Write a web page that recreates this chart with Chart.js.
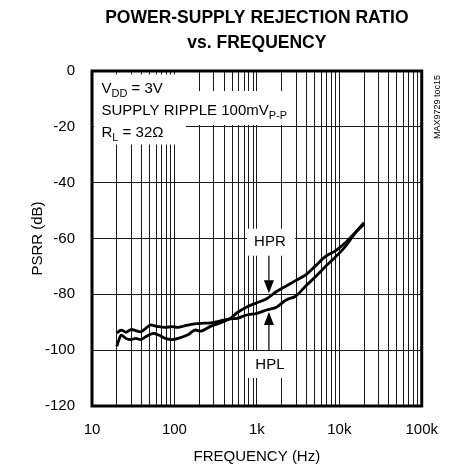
<!DOCTYPE html>
<html>
<head>
<meta charset="utf-8">
<script src="https://cdn.jsdelivr.net/npm/chart.js@4/dist/chart.umd.min.js"></script>
<style>
html, body { margin: 0; padding: 0; background: #fff; }
#wrap { width: 453px; height: 469px; }
</style>
</head>
<body>
<div id="wrap"><canvas id="psrr"></canvas></div>
<script>
// frequencies (Hz) the two curves were read at
const freq = [20, 22.6, 25.9, 29.7, 34.1, 39, 44.8, 51.3, 56.3, 64.5, 77.5, 92.9, 111, 146, 176, 211, 278, 364, 479, 575, 754, 1000, 1315, 1727, 2269, 2980, 3914, 5141, 6753, 8870, 11650, 15300, 20000];
const hpr = [-98.6, -94.6, -95.8, -96.2, -95.8, -96.2, -95.2, -94.3, -94.0, -94.6, -95.8, -96.2, -95.8, -94.5, -92.8, -93.2, -91.4, -90.2, -88.6, -86.6, -84.5, -83.0, -81.6, -79.0, -77.0, -75.0, -73.0, -69.8, -66.5, -64.5, -61.7, -58.1, -54.3];
const hpl = [-93.8, -92.8, -93.6, -92.6, -93.0, -93.4, -92.2, -91.0, -91.2, -91.6, -91.8, -91.6, -91.8, -91.0, -90.6, -90.4, -90.2, -89.5, -88.8, -88.6, -87.4, -86.8, -85.6, -84.6, -82.0, -80.6, -77.0, -73.7, -70.1, -66.8, -63.1, -58.4, -54.8];

const decades = [10, 100, 1000, 10000];
const xTickLabels = {10: '10', 100: '100', 1000: '1k', 10000: '10k', 100000: '100k'};
const yTicks = [-120, -100, -80, -60, -40, -20, 0];

const titleLines = ['POWER-SUPPLY REJECTION RATIO', 'vs. FREQUENCY'];
const conditions = [
  [['V', 0], ['DD', 1], [' = 3V', 0]],
  [['SUPPLY RIPPLE 100mV', 0], ['P-P', 1]],
  [['R', 0], ['L', 1], [' = 32\u03A9', 0]]
];
const arrowFreq = 1400;
const hprTip = -79.6, hplTip = -86.3;

const xGrid = [];
decades.forEach(d => { for (let m = 1; m < 10; m++) xGrid.push(d * m); });
xGrid.push(100000);

const FONT = '"Liberation Sans", Arial, Helvetica, sans-serif';
Chart.defaults.font.family = FONT;
Chart.defaults.color = '#000';

function richText(ctx, parts, x, y) {
  parts.forEach(([t, sub]) => {
    ctx.font = (sub ? '11px ' : '15px ') + FONT;
    ctx.fillText(t, x, y + (sub ? 4 : 0));
    x += ctx.measureText(t).width;
  });
  return x;
}

const extras = {
  id: 'extras',
  beforeDatasetsDraw(chart) {
    const {ctx, chartArea: a, scales: {x, y}} = chart;
    ctx.save();
    ctx.fillStyle = '#fff';
    // backing for the conditions block
    ctx.fillRect(a.left + 2, a.top + 3.5, 92, 70);
    let w = 0;
    conditions[1].forEach(([t, sub]) => {
      ctx.font = (sub ? '11px ' : '15px ') + FONT;
      w += ctx.measureText(t).width;
    });
    ctx.fillRect(a.left + 2, a.top + 20, w + 16, 34);
    // backing for HPR / HPL labels
    const ax = x.getPixelForValue(arrowFreq);
    ctx.fillRect(ax - 22, y.getPixelForValue(-56.5), 48, 27);
    ctx.fillRect(ax - 22, y.getPixelForValue(-100.3), 48, 27);
    ctx.restore();
  },
  afterDraw(chart) {
    const {ctx, chartArea: a, scales: {x, y}} = chart;
    ctx.save();
    // frame
    ctx.strokeStyle = '#000';
    ctx.lineWidth = 3;
    ctx.strokeRect(a.left, a.top, a.right - a.left, a.bottom - a.top);

    // title
    ctx.fillStyle = '#000';
    ctx.textAlign = 'center';
    ctx.textBaseline = 'middle';
    const cx = (a.left + a.right) / 2;
    ctx.font = 'bold 21px "Liberation Sans Narrow", "Arial Narrow", ' + FONT;
    if (ctx.measureText(titleLines[0]).width > 330) ctx.font = 'bold 17.5px ' + FONT;
    ctx.fillText(titleLines[0], cx, 18);
    ctx.fillText(titleLines[1], cx, 43);

    // conditions
    ctx.textAlign = 'left';
    ctx.textBaseline = 'alphabetic';
    conditions.forEach((line, i) => richText(ctx, line, a.left + 9.5, a.top + 21.5 + i * 22));

    // HPR / HPL labels and arrows
    const ax = x.getPixelForValue(arrowFreq);
    ctx.font = '15px ' + FONT;
    ctx.textAlign = 'center';
    ctx.textBaseline = 'middle';
    ctx.fillText('HPR', ax + 1, y.getPixelForValue(-61.3));
    ctx.fillText('HPL', ax + 1, y.getPixelForValue(-105.3));

    ctx.lineWidth = 1.2;
    const drawArrow = (from, tip, dir) => {
      const f = y.getPixelForValue(from), t = y.getPixelForValue(tip);
      ctx.beginPath();
      ctx.moveTo(ax, f);
      ctx.lineTo(ax, t - dir * 12);
      ctx.stroke();
      ctx.beginPath();
      ctx.moveTo(ax, t);
      ctx.lineTo(ax - 5, t - dir * 13);
      ctx.lineTo(ax + 5, t - dir * 13);
      ctx.closePath();
      ctx.fill();
    };
    drawArrow(-66.2, hprTip, 1);
    drawArrow(-100.3, hplTip, -1);

    // figure tag
    ctx.translate(438, a.top + 36);
    ctx.rotate(-Math.PI / 2);
    ctx.font = '9px ' + FONT;
    ctx.fillText('MAX9729 toc15', 0, 0);
    ctx.restore();
  }
};

new Chart(document.getElementById('psrr'), {
  type: 'line',
  data: {
    datasets: [
      { label: 'HPR', data: freq.map((f, i) => ({x: f, y: hpr[i]})) },
      { label: 'HPL', data: freq.map((f, i) => ({x: f, y: hpl[i]})) }
    ]
  },
  options: {
    responsive: true,
    maintainAspectRatio: false,
    animation: false,
    layout: { padding: { top: 71, right: 25, bottom: 0, left: 0 } },
    elements: {
      line: { borderColor: '#000', borderWidth: 2.8, tension: 0.3 },
      point: { radius: 0 }
    },
    plugins: { legend: { display: false }, tooltip: { enabled: false } },
    scales: {
      x: {
        type: 'logarithmic',
        min: 10,
        max: 100000,
        afterBuildTicks: s => { s.ticks = xGrid.map(v => ({value: v})); },
        afterFit: s => { s.height = 63; },
        grid: { color: '#1a1a1a', lineWidth: 1, drawTicks: false },
        border: { display: false },
        ticks: {
          autoSkip: false,
          maxRotation: 0,
          padding: 15,
          font: { size: 15 },
          callback: v => xTickLabels[v] || ''
        },
        title: { display: true, text: 'FREQUENCY (Hz)', font: { size: 15 }, padding: { top: 0, bottom: 3 } }
      },
      y: {
        min: -120,
        max: 0,
        afterBuildTicks: s => { s.ticks = yTicks.map(v => ({value: v})); },
        afterFit: s => { s.width = 92; },
        grid: { color: '#1a1a1a', lineWidth: 1, drawTicks: false },
        border: { display: false },
        ticks: { padding: 17, font: { size: 15 } },
        title: { display: true, text: 'PSRR (dB)', font: { size: 15 }, padding: { top: 29, bottom: 0 } }
      }
    }
  },
  plugins: [extras]
});
</script>
</body>
</html>
